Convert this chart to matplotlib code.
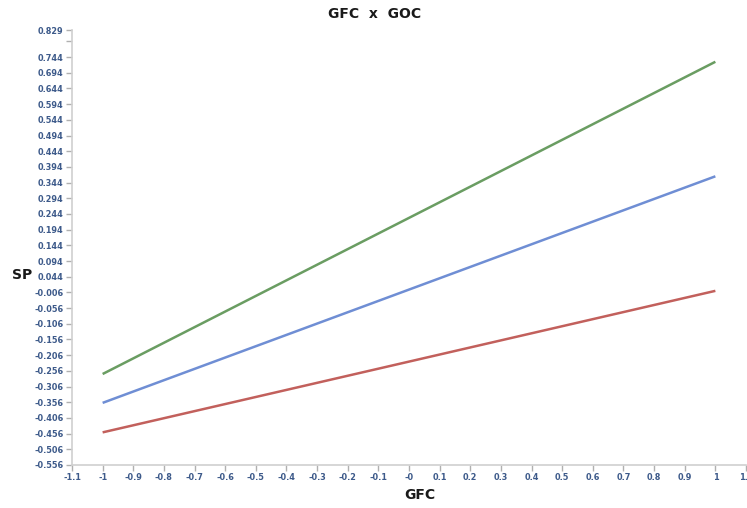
import matplotlib
matplotlib.use("Agg")
import matplotlib.pyplot as plt
import numpy as np

# Data
gfc = [-1, 1]
series_high = [-0.266, 0.729]   # green
series_mid = [-0.358, 0.364]    # blue
series_low = [-0.452, -0.001]   # red

x_ticks = [round(-1.1 + 0.1 * i, 1) for i in range(23)]
x_labels = ["-1.1", "-1", "-0.9", "-0.8", "-0.7", "-0.6", "-0.5", "-0.4", "-0.3", "-0.2", "-0.1",
            "-0", "0.1", "0.2", "0.3", "0.4", "0.5", "0.6", "0.7", "0.8", "0.9", "1", "1.1"]
y_ticks = [round(-0.556 + 0.05 * i, 3) for i in range(28)] + [0.829]
y_labels = [f"{v:.3f}" if abs(v - 0.794) > 1e-6 else "" for v in y_ticks]
y_labels = [l.replace("-0.006", "-0.006") for l in y_labels]

fig = plt.figure(figsize=(7.47, 5.08), dpi=100)
ax = fig.add_axes([72 / 747, 1 - 465 / 508, (746 - 72) / 747, (465 - 30.4) / 508])

ax.plot(gfc, series_high, color="#6a9d62", lw=1.8, solid_capstyle="butt")
ax.plot(gfc, series_mid, color="#6f8ed4", lw=1.8, solid_capstyle="butt")
ax.plot(gfc, series_low, color="#c2605c", lw=1.8, solid_capstyle="butt")

ax.set_xlim(-1.1, 1.1)
ax.set_ylim(-0.556, 0.829)
ax.set_xticks(x_ticks)
ax.set_xticklabels(x_labels)
ax.set_yticks(y_ticks)
ax.set_yticklabels(y_labels)

for s in ["top", "right"]:
    ax.spines[s].set_visible(False)
for s in ["left", "bottom"]:
    ax.spines[s].set_color("#d0d0d0")
    ax.spines[s].set_linewidth(1.2)
ax.tick_params(axis="both", colors="#b0b0b0", length=4, width=1, labelsize=6.5,
               labelcolor="#3d5a8a", pad=2)
for lbl in ax.get_xticklabels() + ax.get_yticklabels():
    lbl.set_fontweight("bold")
    lbl.set_fontstretch("condensed")

fig.text(375 / 747, 1 - 14 / 508, "GFC  x  GOC", ha="center", va="center",
         fontsize=10, fontweight="bold", color="#1a1a1a")
fig.text(22 / 747, 1 - 275 / 508, "SP", ha="center", va="center",
         fontsize=10, fontweight="bold", color="#1a1a1a")
fig.text(420 / 747, 1 - 495 / 508, "GFC", ha="center", va="center",
         fontsize=10, fontweight="bold", color="#1a1a1a")

fig.savefig("out.png", dpi=100)
